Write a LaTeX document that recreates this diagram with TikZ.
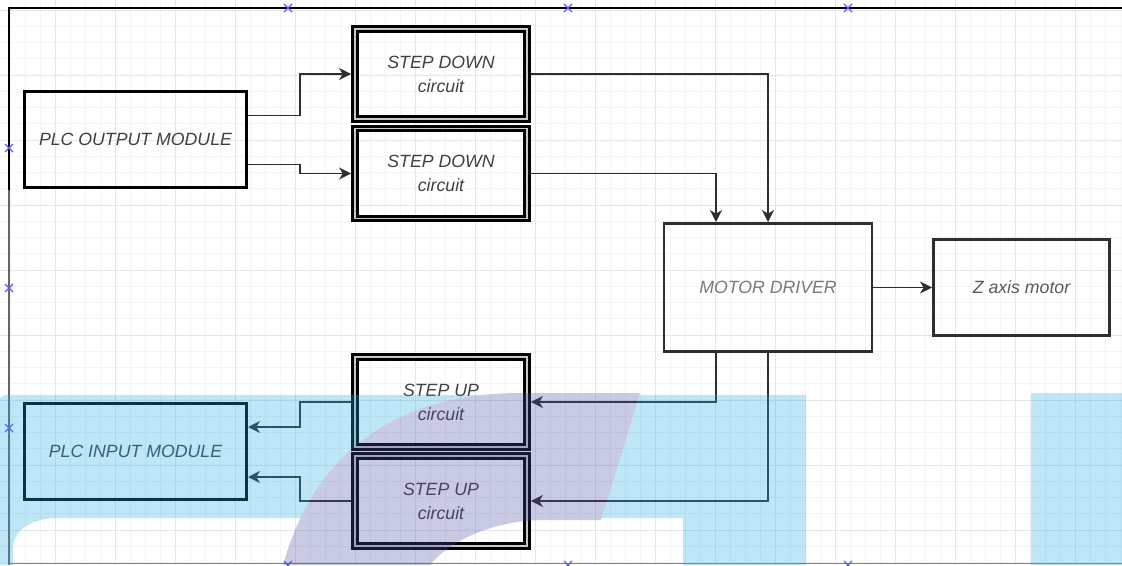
\documentclass[tikz,border=0pt]{standalone}
\usepackage{fontspec}
\setmainfont{Liberation Sans}
\usetikzlibrary{arrows.meta,calc}

\begin{document}
\begin{tikzpicture}[x=0.025cm, y=-0.025cm,
    box/.style={draw=black, line width=2.1pt, minimum width=5.55cm, minimum height=2.4cm,
        inner sep=0pt, text=labelColour, align=center,
        font=\itshape\fontsize{12.6}{17}\selectfont},
    circuitbox/.style={box, line width=2.1pt, double=gapColour, double distance=1.4pt,
        minimum width=4.3cm, minimum height=2.25cm, outer sep=2.8pt},
    driverbox/.style={box, draw=lineColour, line width=1.8pt},
    conn/.style={draw=lineColour, line width=1.35pt,
        -{Stealth[length=8.5pt,width=8.5pt,inset=2.6pt]}},
    handle/.style={draw=markColour, line width=0.9pt}]
    \definecolor{labelColour}{HTML}{404040}
    \definecolor{lineColour}{HTML}{2E2E2E}
    \definecolor{gapColour}{HTML}{C8C8C8}
    \definecolor{minorGrid}{HTML}{F4F4F4}
    \definecolor{majorGrid}{HTML}{E6E6E6}
    \definecolor{markColour}{HTML}{5A5AFF}
    \definecolor{wmBlue}{HTML}{29ABE2}
    \definecolor{wmPurple}{HTML}{4B4EA5}

    \useasboundingbox (0,0) rectangle (1122,565);

    % Draw grid
    \foreach \gx in {10,25,...,1120}
        \draw[minorGrid, line width=0.6pt] (\gx,0) -- (\gx,565);
    \foreach \gy in {10,26.25,...,565}
        \draw[minorGrid, line width=0.6pt] (0,\gy) -- (1122,\gy);
    \foreach \gx in {55,115,...,1115}
        \draw[majorGrid, line width=0.7pt] (\gx,0) -- (\gx,565);
    \foreach \gy in {10,75,...,565}
        \draw[majorGrid, line width=0.7pt] (0,\gy) -- (1122,\gy);

    % Draw frame and its handles
    \draw[line width=2.1pt] (9,190) -- (9,8) -- (1122,8);
    \draw[gray!80!black, line width=1.6pt] (9,190) -- (9,565);
    \draw[gray, line width=0.7pt] (9,563) -- (1122,563);
    \foreach \mx in {288,568,848} {
        \draw[handle] (\mx-4,4) -- (\mx+4,12) (\mx-4,12) -- (\mx+4,4);
        \draw[handle] (\mx-4,561) -- (\mx+4,569) (\mx-4,569) -- (\mx+4,561);
    }
    \foreach \my in {148,288,428}
        \draw[handle] (5,\my-4) -- (13,\my+4) (5,\my+4) -- (13,\my-4);

    % Blocks
    \node[box] (plcout) at (135.5,139.5) {PLC OUTPUT MODULE};
    \node[circuitbox] (down1) at (441,74) {STEP DOWN\\circuit};
    \node[circuitbox] (down2) at (441,173.5) {STEP DOWN\\circuit};
    \node[driverbox, minimum width=5.19cm, minimum height=3.21cm, text=gray!95!black] (motor) at (768,287.5) {MOTOR DRIVER};
    \node[driverbox, minimum width=4.41cm, minimum height=2.41cm, text=gray!70!black] (zaxis) at (1021.5,287.5) {Z axis motor};
    \node[circuitbox] (up1) at (441,402) {STEP UP\\circuit};
    \node[circuitbox] (up2) at (441,501) {STEP UP\\circuit};
    \node[box] (plcin) at (135.5,451.5) {PLC INPUT MODULE};

    % Connections
    \draw[conn] ($(plcout.east)+(0,-24)$) -- ++(52,0) |- (down1.west);
    \draw[conn] ($(plcout.east)+(0,25)$) -- ++(52,0) |- (down2.west);
    \draw[conn] (down1.east) -| (motor.north);
    \draw[conn] (down2.east) -| ($(motor.north)+(-52,0)$);
    \draw[conn] (motor.east) -- (zaxis.west);
    \draw[conn] ($(motor.south)+(-52,0)$) |- (up1.east);
    \draw[conn] (motor.south) |- (up2.east);
    \draw[conn] (up1.west) -- ++(-51,0) |- ($(plcin.east)+(0,-24.5)$);
    \draw[conn] (up2.west) -- ++(-51,0) |- ($(plcin.east)+(0,25.5)$);

    % Watermark on top
    \begin{scope}[transparency group, opacity=0.3]
        \fill[wmBlue] (0,565) -- (0,398) -- (5,395) -- (806,395) -- (806,565) -- (683,565)
            -- (683,518) -- (60,518) .. controls (30,518) and (13,530) .. (13,550) -- (13,565) -- cycle;
        \fill[wmBlue] (1031,393) rectangle (1122,565);
        \fill[wmPurple] (283,565) .. controls (315,450) and (400,393) .. (520,393) -- (640,393)
            -- (601,520) -- (545,520) .. controls (495,520) and (450,540) .. (430,565) -- cycle;
    \end{scope}

\end{tikzpicture}
\end{document}
